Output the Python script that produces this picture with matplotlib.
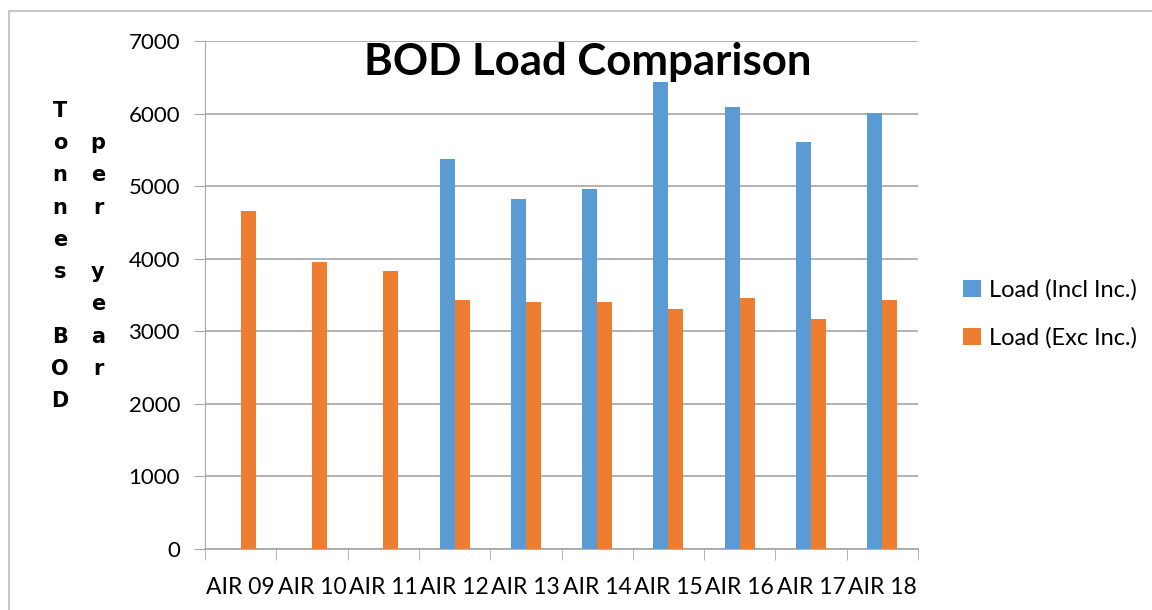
import matplotlib.pyplot as plt
from matplotlib.lines import Line2D
import numpy as np

plt.rcParams['font.family'] = ['Lato', 'DejaVu Sans']

categories = ['AIR 09', 'AIR 10', 'AIR 11', 'AIR 12', 'AIR 13',
              'AIR 14', 'AIR 15', 'AIR 16', 'AIR 17', 'AIR 18']
load_incl = [0, 0, 0, 5380, 4820, 4960, 6440, 6095, 5610, 6010]
load_exc = [4655, 3955, 3830, 3430, 3405, 3405, 3305, 3460, 3170, 3430]
yticks = [0, 1000, 2000, 3000, 4000, 5000, 6000, 7000]

blue = '#5B9BD5'
orange = '#ED7D31'
grid_col = '#a6a6a6'

fig = plt.figure(figsize=(11.52, 6.10), dpi=100)
ax = fig.add_axes([205 / 1152, 1 - 549 / 610, 713 / 1152, 508 / 610])

x = np.arange(len(categories))
w = 0.21
ax.bar(x - w / 2, load_incl, w, color=blue, label='Load (Incl Inc.)', zorder=3)
ax.bar(x + w / 2, load_exc, w, color=orange, label='Load (Exc Inc.)', zorder=3)

ax.set_xlim(-0.5, len(categories) - 0.5)
ax.set_ylim(0, 7000)
ax.set_yticks(yticks)
ax.tick_params(axis='y', labelsize=16, length=8, color=grid_col, pad=10)
ax.yaxis.grid(True, color=grid_col, linewidth=1.2, zorder=0)

ax.set_xticks(x)
ax.set_xticklabels(categories)
ax.set_xticks(np.arange(len(categories) + 1) - 0.5, minor=True)
ax.tick_params(axis='x', which='major', length=0, labelsize=16.5, pad=20)
ax.tick_params(axis='x', which='minor', length=8, color=grid_col)

for side in ['top', 'right']:
    ax.spines[side].set_visible(False)
ax.spines['left'].set_color(grid_col)
ax.spines['bottom'].set_color(grid_col)
ax.spines['bottom'].set_linewidth(1.2)

fig.text(588 / 1152, 1 - 62 / 610, 'BOD Load Comparison', fontsize=31.5,
         fontweight='bold', ha='center', va='center')

# stacked vertical axis label, two columns
col1 = '\n'.join('Tonnes BOD')
col2 = '\n'.join('per year')
fig.text(60 / 1152, 1 - 256 / 610, col1, fontsize=15, fontweight='bold',
         family='DejaVu Sans', ha='center', va='center', linespacing=1.77)
fig.text(98 / 1152, 1 - 256 / 610, col2, fontsize=15, fontweight='bold',
         family='DejaVu Sans', ha='center', va='center', linespacing=1.77)

fig.legend(loc='center left', bbox_to_anchor=(942 / 1152, 1 - 314 / 610),
           frameon=False, fontsize=17, handlelength=0.75, handleheight=0.75,
           handletextpad=0.35, labelspacing=1.1)

# outer chart border
fig.add_artist(Line2D([9 / 1152, 1], [1 - 11 / 610, 1 - 11 / 610],
                      transform=fig.transFigure, color='#c8c8c8', linewidth=1.5))
fig.add_artist(Line2D([9 / 1152, 9 / 1152], [0, 1 - 11 / 610],
                      transform=fig.transFigure, color='#c8c8c8', linewidth=1.5))

fig.savefig('out.png', dpi=100)
